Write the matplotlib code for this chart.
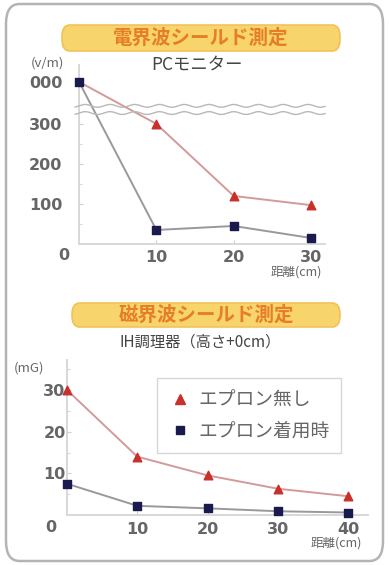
import numpy as np
import matplotlib
matplotlib.use("Agg")
import matplotlib.pyplot as plt
from matplotlib.patches import FancyBboxPatch
from matplotlib.lines import Line2D

plt.rcParams['font.family'] = ['Noto Sans CJK JP', 'DejaVu Sans']

# --- data: electric field, PC monitor ---
e_dist = [0, 10, 20, 30]
e_without = [1000, 300, 120, 97]
e_with = [1000, 35, 45, 15]
e_yticks = [100, 200, 300, 1000]
e_ylabels = ['100', '200', '300', '000']
e_xticks = [10, 20, 30]

# --- data: magnetic field, IH cooker ---
m_dist = [0, 10, 20, 30, 40]
m_without = [30, 14, 9.5, 6.3, 4.5]
m_with = [7.5, 2.2, 1.6, 0.9, 0.6]
m_yticks = [10, 20, 30]
m_xticks = [10, 20, 30, 40]

legend_labels = ['エプロン無し', 'エプロン着用時']

RED = '#c8302c'
NAVY = '#1b1a4e'
RED_LINE = '#d29a9a'
GRAY_LINE = '#98989e'
AXIS = '#d8d8d8'
TXT = '#666666'
W, H = 389, 565


def px(x, y):
    return x / W, 1 - y / H


def fwd(y):
    y = np.asarray(y, dtype=float)
    return np.where(y <= 350, y, 350 + (y - 350) * 55 / 650)


def inv(y):
    y = np.asarray(y, dtype=float)
    return np.where(y <= 350, y, 350 + (y - 350) * 650 / 55)


def style_axes(ax):
    ax.patch.set_alpha(0)
    for s in ['top', 'right']:
        ax.spines[s].set_visible(False)
    for s in ['left', 'bottom']:
        ax.spines[s].set_color(AXIS)
        ax.spines[s].set_linewidth(1.4)
    ax.tick_params(which='both', direction='in', color='#d0d0d0')
    ax.tick_params(which='major', length=3)
    ax.tick_params(which='minor', length=2)
    for lab in ax.get_xticklabels() + ax.get_yticklabels():
        lab.set_family('DejaVu Sans')
        lab.set_fontsize(11.5)
        lab.set_fontweight('bold')
        lab.set_color(TXT)


def title_box(x0, y0, x1, y1, text):
    bx, by = px(x0, y1)
    bw, bh = (x1 - x0) / W, (y1 - y0) / H
    fig.patches.append(FancyBboxPatch((bx, by), bw, bh,
                                      boxstyle='round,pad=0,rounding_size=0.02',
                                      transform=fig.transFigure,
                                      fc='#f8d46c', ec='#f1c25a', lw=1.2))
    cx, cy = px((x0 + x1) / 2, (y0 + y1) / 2)
    fig.text(cx, cy, text, ha='center', va='center', fontsize=14,
             fontweight='bold', color='#e57e26')


fig = plt.figure(figsize=(W / 100, H / 100), dpi=100)

# outer rounded frame
fig.patches.append(FancyBboxPatch((6 / W, 4 / H), (W - 12) / W, (H - 8) / H,
                                  boxstyle='round,pad=0,rounding_size=0.035',
                                  transform=fig.transFigure,
                                  fc='none', ec='#b4b4b4', lw=1.8))

# ---------------- top chart ----------------
ax1 = fig.add_axes([79 / W, 1 - 244 / H, (325 - 79) / W, (244 - 65) / H], zorder=2)
ax1.set_yscale('function', functions=(fwd, inv))
ax1.set_xlim(0, 31.8)
ax1.set_ylim(0, float(inv(447)))
ax1.plot(e_dist, e_without, color=RED_LINE, lw=1.4, zorder=3)
ax1.plot(e_dist, e_with, color=GRAY_LINE, lw=1.4, zorder=3)
ax1.scatter(e_dist[1:], e_without[1:], marker='^', s=38, color=RED, zorder=4, clip_on=False)
ax1.scatter(e_dist, e_with, marker='s', s=28, color=NAVY, zorder=5, clip_on=False)
ax1.set_yticks(e_yticks)
ax1.set_yticklabels(e_ylabels)
ax1.set_yticks([50, 150, 250], minor=True)
ax1.set_xticks(e_xticks)
ax1.tick_params(axis='y', pad=12)
ax1.tick_params(axis='x', pad=4)
style_axes(ax1)

# wavy break lines
wx = np.linspace(-0.5, 31.8, 400)
for base in (345, 327):
    ax1.plot(wx, base + 3.5 * np.sin(wx * 2 * np.pi / 3.2), color='#b8b8b8',
             lw=1.0, zorder=6, clip_on=False)

fig.text(*px(64, 256), '0', ha='center', va='center', fontsize=11.5,
         family='DejaVu Sans', fontweight='bold', color=TXT)
fig.text(*px(47, 63), '(v/m)', ha='center', va='center', fontsize=9.5, color=TXT)
fig.text(*px(197, 65), 'PCモニター', ha='center', va='center', fontsize=12.5, color='#444444')
fig.text(*px(322, 272), '距離(cm)', ha='right', va='center', fontsize=9, color=TXT)
title_box(62, 25, 340, 51, '電界波シールド測定')

# ---------------- bottom chart ----------------
ax2 = fig.add_axes([67 / W, 1 - 515 / H, (368 - 67) / W, (515 - 360) / H], zorder=2)
ax2.set_xlim(0, 42.8)
ax2.set_ylim(0, 37.2)
ax2.plot(m_dist, m_without, color=RED_LINE, lw=1.4, zorder=3)
ax2.plot(m_dist, m_with, color=GRAY_LINE, lw=1.4, zorder=3)
ax2.scatter(m_dist, m_without, marker='^', s=38, color=RED, zorder=4, clip_on=False)
ax2.scatter(m_dist, m_with, marker='s', s=28, color=NAVY, zorder=5, clip_on=False)
ax2.set_yticks(m_yticks)
ax2.set_yticks([5, 15, 25, 35], minor=True)
ax2.set_xticks(m_xticks)
ax2.tick_params(axis='y', pad=1)
ax2.tick_params(axis='x', pad=5)
style_axes(ax2)

fig.text(*px(51, 527), '0', ha='center', va='center', fontsize=11.5,
         family='DejaVu Sans', fontweight='bold', color=TXT)
fig.text(*px(29, 368), '(mG)', ha='center', va='center', fontsize=9.5, color=TXT)
fig.text(*px(200, 342), 'IH調理器（高さ+0cm）', ha='center', va='center', fontsize=11, color='#444444')
fig.text(*px(362, 543), '距離(cm)', ha='right', va='center', fontsize=9, color=TXT)
title_box(72, 303, 340, 327, '磁界波シールド測定')

handles = [Line2D([], [], ls='none', marker='^', ms=7, color=RED),
           Line2D([], [], ls='none', marker='s', ms=6, color=NAVY)]
leg = fig.legend(handles, legend_labels, loc='upper left',
                 bbox_to_anchor=(157 / W, 1 - 378 / H), borderaxespad=0,
                 frameon=True, fancybox=False, fontsize=13.5, labelspacing=0.55,
                 handletextpad=0.4, borderpad=0.6, handlelength=1.2)
leg.set_zorder(3)
leg.get_frame().set_edgecolor('#cccccc')
leg.get_frame().set_linewidth(1.0)
for t in leg.get_texts():
    t.set_color(TXT)

fig.savefig('out.png', dpi=100)
